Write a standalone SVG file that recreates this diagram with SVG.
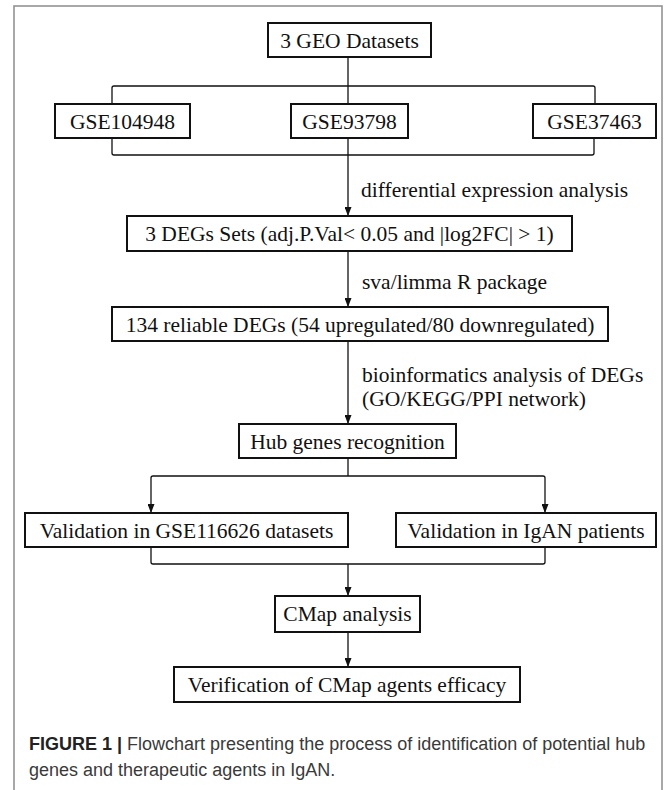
<svg xmlns="http://www.w3.org/2000/svg" width="669" height="790" viewBox="0 0 669 790">
<defs>
<marker id="arr" markerUnits="userSpaceOnUse" markerWidth="9" markerHeight="7" viewBox="0 0 9 7" refX="9" refY="3.5" orient="auto">
<path d="M0,0 L9,3.5 L0,7 z" fill="#111"/>
</marker>
<style>
.box{fill:#fff;stroke:#111;stroke-width:2}
.t{font-family:"Liberation Serif","Times New Roman",serif;font-size:21.5px;fill:#111;text-anchor:middle}
.lbl{font-family:"Liberation Serif","Times New Roman",serif;font-size:21.5px;fill:#111}
.c{fill:none;stroke:#111;stroke-width:1.3;stroke-linejoin:round}
.cap{font-family:"Liberation Sans",Arial,sans-serif;font-size:18px;fill:#3a3a3a}
</style>
</defs>
<rect x="0" y="0" width="669" height="790" fill="#fff"/>
<rect x="14" y="6" width="648" height="800" fill="none" stroke="#8c8c8c" stroke-width="1.5"/>

<g id="connectors">
<path class="c" d="M348,57 V104"/>
<path class="c" d="M112,104 V88 Q112,86 114,86 H593 Q595,86 595,88 V104"/>
<path class="c" d="M112,138 V153 Q112,155 114,155 H592 Q594,155 594,153 V138"/>
<path class="c" d="M348,138 V216" marker-end="url(#arr)"/>
<path class="c" d="M348,251 V307" marker-end="url(#arr)"/>
<path class="c" d="M348,341 V424" marker-end="url(#arr)"/>
<path class="c" d="M348,458 V476"/>
<path class="c" d="M151,478 Q151,476 153,476 H543 Q545,476 545,478"/>
<path class="c" d="M151,478 V513" marker-end="url(#arr)"/>
<path class="c" d="M545,478 V513" marker-end="url(#arr)"/>
<path class="c" d="M151,547 V562 Q151,564 153,564 H543 Q545,564 545,562 V547"/>
<path class="c" d="M348,564 V596" marker-end="url(#arr)"/>
<path class="c" d="M348,632 V667" marker-end="url(#arr)"/>
</g>

<g id="n_geo"><rect class="box" x="268" y="23" width="163" height="34"/><text class="t" x="349.5" y="47.5">3 GEO Datasets</text></g>
<g id="n_gse104948"><rect class="box" x="55" y="104" width="135" height="34"/><text class="t" x="122.5" y="128.5">GSE104948</text></g>
<g id="n_gse93798"><rect class="box" x="291" y="104" width="117" height="34"/><text class="t" x="349.5" y="128.5">GSE93798</text></g>
<g id="n_gse37463"><rect class="box" x="533" y="104" width="123" height="34"/><text class="t" x="594.5" y="128.5">GSE37463</text></g>
<g id="n_degsets"><rect class="box" x="127" y="216" width="445" height="35"/><text class="t" x="349.5" y="241">3 DEGs Sets (adj.P.Val&lt; 0.05 and |log2FC| &gt; 1)</text></g>
<g id="n_reliable"><rect class="box" x="112" y="307" width="496" height="34"/><text class="t" x="360" y="331.5">134 reliable DEGs (54 upregulated/80 downregulated)</text></g>
<g id="n_hub"><rect class="box" x="239" y="424" width="217" height="34"/><text class="t" x="347.5" y="448.5">Hub genes recognition</text></g>
<g id="n_val_gse"><rect class="box" x="25" y="513" width="323" height="34"/><text class="t" x="186.5" y="537.5">Validation in GSE116626 datasets</text></g>
<g id="n_val_igan"><rect class="box" x="396" y="513" width="260" height="34"/><text class="t" x="526" y="537.5">Validation in IgAN patients</text></g>
<g id="n_cmap"><rect class="box" x="275" y="596" width="145" height="36"/><text class="t" x="347.5" y="621">CMap analysis</text></g>
<g id="n_verif"><rect class="box" x="174" y="667" width="346" height="35"/><text class="t" x="347" y="692">Verification of CMap agents efficacy</text></g>

<g id="labels">
<text class="lbl" x="361" y="197">differential expression analysis</text>
<text class="lbl" x="362" y="289">sva/limma R package</text>
<text class="lbl" x="362" y="382">bioinformatics analysis of DEGs</text>
<text class="lbl" x="362" y="406">(GO/KEGG/PPI network)</text>
</g>

<g id="caption">
<text class="cap" x="29" y="750"><tspan font-weight="bold" fill="#222">FIGURE 1 | </tspan>Flowchart presenting the process of identification of potential hub</text>
<text class="cap" x="29" y="776">genes and therapeutic agents in IgAN.</text>
</g>
</svg>
